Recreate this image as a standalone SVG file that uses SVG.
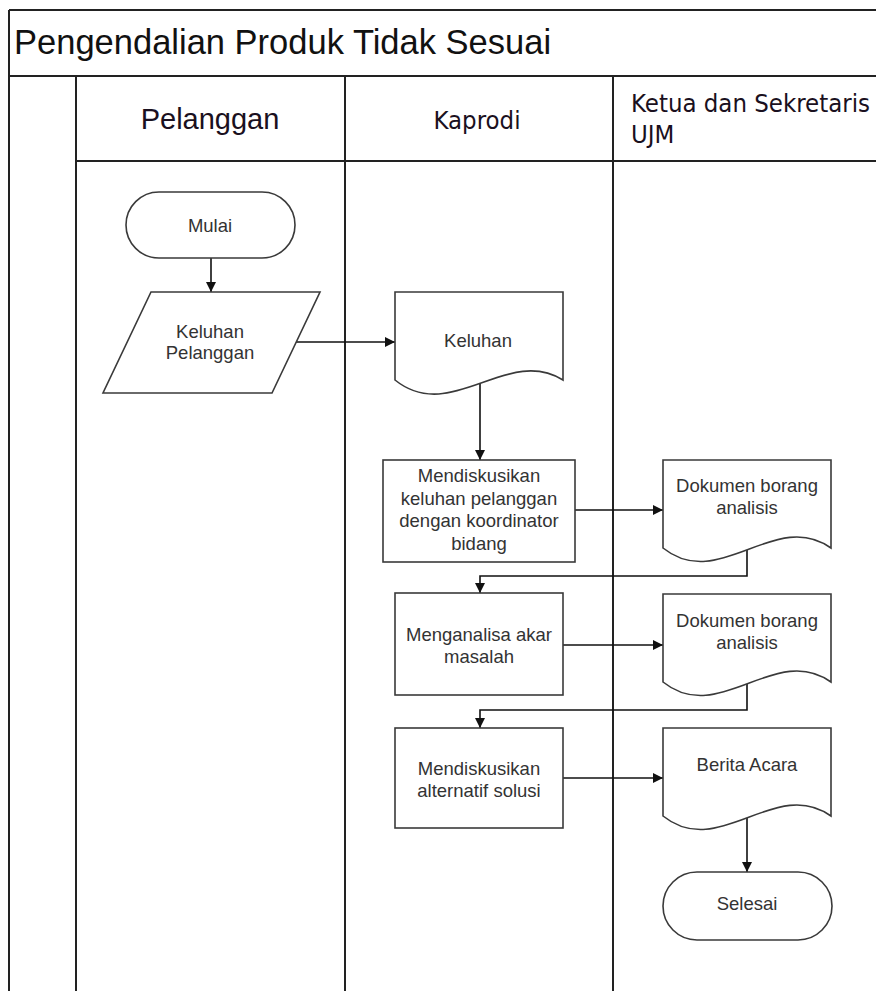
<svg xmlns="http://www.w3.org/2000/svg" width="876" height="991" viewBox="0 0 876 991">
<defs>
<marker id="arr" viewBox="0 0 10 10" refX="10" refY="5" markerWidth="10" markerHeight="10" markerUnits="userSpaceOnUse" orient="auto">
<path d="M0,0 L10,5 L0,10 Z" fill="#111"/>
</marker>
<style>
.frame{fill:none;stroke:#222;stroke-width:2}
.node{fill:#fff;stroke:#3a3a3a;stroke-width:1.6}
.conn{fill:none;stroke:#111;stroke-width:1.6}
.t{font-family:"Liberation Sans",Arial,sans-serif;font-size:18.5px;fill:#333;text-anchor:middle}
.title{font-family:"Liberation Sans",Arial,sans-serif;font-size:34.5px;fill:#111}
.lane{font-family:"DejaVu Sans Condensed","DejaVu Sans",sans-serif;font-size:25.5px;fill:#1a1020}
</style>
</defs>
<rect width="876" height="991" fill="#fff"/>
<g id="pool">
<path class="frame" d="M9,10 H876 M9,10 V991 M9,76 H876 M76,76 V991 M345,76 V991 M613,76 V991 M76,161 H876"/>
<text class="title" x="14" y="54">Pengendalian Produk Tidak Sesuai</text>
<text class="lane" x="210" y="129" text-anchor="middle" style="font-family:'Liberation Sans',Arial,sans-serif;font-size:29px">Pelanggan</text>
<text class="lane" x="477" y="129" text-anchor="middle">Kaprodi</text>
<text class="lane" x="631" y="112">Ketua dan Sekretaris</text>
<text class="lane" x="631" y="143">UJM</text>
</g>
<g id="connectors">
<path class="conn" d="M211,258 V292" marker-end="url(#arr)"/>
<path class="conn" d="M296,342 H395" marker-end="url(#arr)"/>
<path class="conn" d="M480,382 V460" marker-end="url(#arr)"/>
<path class="conn" d="M575,510 H663" marker-end="url(#arr)"/>
<path class="conn" d="M747,550 V576 H480 V593" marker-end="url(#arr)"/>
<path class="conn" d="M563,645 H663" marker-end="url(#arr)"/>
<path class="conn" d="M747,684 V710 H480 V728" marker-end="url(#arr)"/>
<path class="conn" d="M563,778 H663" marker-end="url(#arr)"/>
<path class="conn" d="M747,818 V872" marker-end="url(#arr)"/>
</g>
<g id="mulai">
<rect class="node" x="126" y="192" width="169" height="66" rx="33" ry="33"/>
<text class="t" x="210" y="231.5">Mulai</text>
</g>
<g id="keluhan-pelanggan">
<path class="node" d="M151,292 H320 L272,393 H103 Z"/>
<text class="t" x="210" y="338">Keluhan</text>
<text class="t" x="210" y="359">Pelanggan</text>
</g>
<g id="keluhan">
<path class="node" d="M395,292 H563 V380 C507,345 451,425 395,380 Z"/>
<text class="t" x="478" y="346.5">Keluhan</text>
</g>
<g id="diskusi-keluhan">
<rect class="node" x="383" y="460" width="192" height="102"/>
<text class="t" x="479" y="482">Mendiskusikan</text>
<text class="t" x="479" y="504.5">keluhan pelanggan</text>
<text class="t" x="479" y="527">dengan koordinator</text>
<text class="t" x="479" y="549.5">bidang</text>
</g>
<g id="dokumen1">
<path class="node" d="M663,460 H831 V548 C775,508 719,593 663,548 Z"/>
<text class="t" x="747" y="491.5">Dokumen borang</text>
<text class="t" x="747" y="513.5">analisis</text>
</g>
<g id="analisa">
<rect class="node" x="395" y="593" width="168" height="102"/>
<text class="t" x="479" y="640.5">Menganalisa akar</text>
<text class="t" x="479" y="662.5">masalah</text>
</g>
<g id="dokumen2">
<path class="node" d="M663,594 H831 V682 C775,642 719,727 663,682 Z"/>
<text class="t" x="747" y="626.5">Dokumen borang</text>
<text class="t" x="747" y="648.5">analisis</text>
</g>
<g id="alternatif">
<rect class="node" x="395" y="728" width="168" height="100"/>
<text class="t" x="479" y="774.5">Mendiskusikan</text>
<text class="t" x="479" y="796.5">alternatif solusi</text>
</g>
<g id="berita-acara">
<path class="node" d="M663,728 H831 V816 C775,776 719,861 663,816 Z"/>
<text class="t" x="747" y="770.5">Berita Acara</text>
</g>
<g id="selesai">
<rect class="node" x="663" y="872" width="169" height="68" rx="34" ry="34"/>
<text class="t" x="747" y="909.5">Selesai</text>
</g>
</svg>
